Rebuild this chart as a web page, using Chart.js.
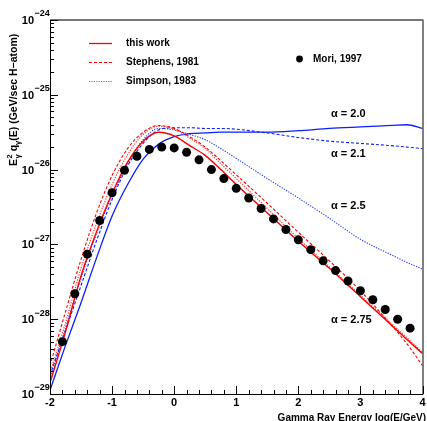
<!DOCTYPE html>
<html>
<head>
<meta charset="utf-8">
<script src="https://cdn.jsdelivr.net/npm/chart.js@4.4.1/dist/chart.umd.min.js"></script>
<style>
body { margin: 0; background: #fff; }
canvas { display: block; }
</style>
</head>
<body>
<canvas id="gamma-spectrum" width="427" height="421"></canvas>
<script>
var curveX = [-2, -1.75, -1.5, -1.25, -1, -0.75, -0.5, -0.25, 0, 0.25, 0.5, 0.75, 1, 1.5, 2, 2.5, 3, 3.5, 3.75, 4];

var thisWork  = [1.41e-29, 6.76e-29, 3.80e-28, 1.48e-27, 4.79e-27, 1.26e-26, 2.40e-26, 3.16e-26, 2.82e-26, 2.09e-26, 1.55e-26, 1.00e-26, 6.31e-27, 2.63e-27, 1.10e-27, 4.79e-28, 2.00e-28, 8.32e-29, 5.37e-29, 3.47e-29];
var stephens  = [2.40e-29, 1.26e-28, 6.31e-28, 2.63e-27, 8.32e-27, 1.91e-26, 3.16e-26, 3.89e-26, 3.55e-26, 2.75e-26, 2.00e-26, 1.32e-26, 8.51e-27, 3.55e-27, 1.45e-27, 6.03e-28, 2.40e-28, 8.32e-29, 4.68e-29, 2.40e-29];
var simpson   = [1.91e-29, 8.91e-29, 4.79e-28, 1.91e-27, 6.31e-27, 1.58e-26, 2.95e-26, 3.80e-26, 3.47e-26, 2.63e-26, 1.91e-26, 1.20e-26, 7.59e-27, 3.02e-27, 1.20e-27, 5.01e-28, 2.09e-28, 8.71e-29, 5.62e-29, 3.63e-29];
var alpha20   = [1.12e-29, 4.47e-29, 1.66e-28, 6.61e-28, 2.40e-27, 6.31e-27, 1.38e-26, 2.19e-26, 2.75e-26, 3.02e-26, 3.09e-26, 3.16e-26, 3.16e-26, 3.16e-26, 3.31e-26, 3.55e-26, 3.72e-26, 3.89e-26, 3.98e-26, 3.55e-26];
var alpha21   = [1.78e-29, 7.08e-29, 2.82e-28, 1.12e-27, 3.98e-27, 1.12e-26, 2.24e-26, 3.39e-26, 3.63e-26, 3.63e-26, 3.55e-26, 3.55e-26, 3.47e-26, 3.09e-26, 2.69e-26, 2.40e-26, 2.24e-26, 2.09e-26, 2.00e-26, 1.91e-26];
var alpha25   = [1.58e-29, 7.59e-29, 3.55e-28, 1.41e-27, 4.47e-27, 1.20e-26, 2.51e-26, 3.55e-26, 3.39e-26, 2.95e-26, 2.51e-26, 1.91e-26, 1.41e-26, 7.59e-27, 4.17e-27, 2.24e-27, 1.17e-27, 7.24e-28, 5.75e-28, 4.68e-28];

var moriX = [-1.8, -1.6, -1.4, -1.2, -1.0, -0.8, -0.6, -0.4, -0.2, 0.0, 0.2, 0.4, 0.6, 0.8, 1.0, 1.2, 1.4, 1.6, 1.8, 2.0, 2.2, 2.4, 2.6, 2.8, 3.0, 3.2, 3.4, 3.6, 3.8];
var moriY = [5.01e-29, 2.19e-28, 7.41e-28, 2.09e-27, 4.90e-27, 9.77e-27, 1.51e-26, 1.86e-26, 2.00e-26, 1.95e-26, 1.70e-26, 1.35e-26, 1.00e-26, 7.59e-27, 5.62e-27, 4.17e-27, 3.02e-27, 2.19e-27, 1.58e-27, 1.15e-27, 8.51e-28, 6.03e-28, 4.47e-28, 3.24e-28, 2.40e-28, 1.82e-28, 1.35e-28, 1.00e-28, 7.59e-29];

var xTickLabels = ['-2', '-1', '0', '1', '2', '3', '4'];
var yExponents = [-29, -28, -27, -26, -25, -24];
var alphaLabels = ['\u03b1 = 2.0', '\u03b1 = 2.1', '\u03b1 = 2.5', '\u03b1 = 2.75'];

var FONT = '"Liberation Sans", Arial, Helvetica, sans-serif';

function toPoints(xs, ys) {
    return xs.map(function(x, i) { return { x: x, y: ys[i] }; });
}

function curve(label, ys, color, width, dash) {
    return {
        label: label,
        data: toPoints(curveX, ys),
        borderColor: color,
        borderWidth: width,
        borderDash: dash,
        pointRadius: 0,
        fill: false,
        cubicInterpolationMode: 'monotone'
    };
}

var pawFrame = {
    id: 'pawFrame',
    afterDraw: function(chart) {
        var ctx = chart.ctx;
        var area = chart.chartArea;
        var xs = chart.scales.x;
        var ys = chart.scales.y;
        ctx.save();

        // frame
        ctx.strokeStyle = '#000';
        ctx.lineWidth = 1;
        ctx.beginPath();
        ctx.moveTo(area.left + 0.5, area.top);
        ctx.lineTo(area.left + 0.5, area.bottom + 0.5);
        ctx.lineTo(area.right + 0.5, area.bottom + 0.5);
        ctx.lineTo(area.right + 0.5, area.top);
        ctx.stroke();
        ctx.strokeStyle = '#777';
        ctx.lineWidth = 2;
        ctx.beginPath();
        ctx.moveTo(area.left, area.top);
        ctx.lineTo(area.right + 1, area.top);
        ctx.stroke();

        // ticks
        ctx.strokeStyle = '#000';
        ctx.lineWidth = 1;
        ctx.beginPath();
        for (var i = 0; i <= 30; i++) {
            var px = Math.round(xs.getPixelForValue(-2 + i * 0.2)) + 0.5;
            var len = (i % 5 === 0) ? 8 : 4;
            ctx.moveTo(px, area.bottom);
            ctx.lineTo(px, area.bottom - len);
        }
        for (var n = -29; n <= -24; n++) {
            for (var k = 1; k <= 9; k++) {
                if (n === -24 && k > 1) break;
                var py = Math.round(ys.getPixelForValue(k * Math.pow(10, n))) + 0.5;
                var l = (k === 1) ? 8 : 4;
                ctx.moveTo(area.left, py);
                ctx.lineTo(area.left + l, py);
            }
        }
        ctx.stroke();

        // tick labels
        ctx.fillStyle = '#000';
        ctx.font = 'bold 11px ' + FONT;
        ctx.textAlign = 'center';
        ctx.textBaseline = 'middle';
        xTickLabels.forEach(function(t) {
            ctx.fillText(t, xs.getPixelForValue(parseFloat(t)), area.bottom + 9);
        });
        yExponents.forEach(function(e) {
            var py = ys.getPixelForValue(Math.pow(10, e));
            ctx.font = 'bold 11px ' + FONT;
            ctx.textAlign = 'right';
            ctx.fillText('10', 34, py + 1);
            ctx.font = 'bold 9px ' + FONT;
            ctx.textAlign = 'left';
            ctx.fillText('\u2212' + Math.abs(e), 34.5, py - 6);
        });

        // x title
        ctx.font = 'bold 10px ' + FONT;
        ctx.textAlign = 'right';
        ctx.textBaseline = 'alphabetic';
        ctx.fillText('Gamma Ray Energy log(E/GeV)', 426, 421);

        // y title
        ctx.save();
        ctx.translate(17, 166);
        ctx.rotate(-Math.PI / 2);
        ctx.textAlign = 'left';
        var cx = 0;
        ctx.font = 'bold 10.5px ' + FONT;
        ctx.fillText('E', cx, 0);
        cx += ctx.measureText('E').width + 0.5;
        ctx.font = 'bold 7.5px ' + FONT;
        ctx.fillText('2', cx, -5);
        ctx.fillText('\u03b3', cx, 3);
        cx += ctx.measureText('\u03b3').width + 3;
        ctx.font = 'bold 10.5px ' + FONT;
        ctx.fillText('q', cx, 0);
        cx += ctx.measureText('q').width;
        ctx.font = 'bold 7.5px ' + FONT;
        ctx.fillText('\u03b3', cx, 3);
        cx += ctx.measureText('\u03b3').width;
        ctx.font = 'bold 10.5px ' + FONT;
        ctx.fillText('(E) (GeV/sec H\u2212atom)', cx, 0);
        ctx.restore();

        // legend
        var entries = [
            { text: 'this work', y: 43.5, color: 'red', dash: [], width: 1.3 },
            { text: 'Stephens, 1981', y: 62.5, color: 'red', dash: [3, 2], width: 1 },
            { text: 'Simpson, 1983', y: 81.5, color: '#ff4040', dash: [1.2, 1.2], width: 1.1 }
        ];
        ctx.font = 'bold 10px ' + FONT;
        ctx.textAlign = 'left';
        ctx.textBaseline = 'middle';
        entries.forEach(function(e) {
            ctx.strokeStyle = e.color;
            ctx.lineWidth = e.width;
            ctx.setLineDash(e.dash);
            ctx.beginPath();
            ctx.moveTo(89, e.y);
            ctx.lineTo(112, e.y);
            ctx.stroke();
            ctx.setLineDash([]);
            ctx.fillStyle = '#000';
            ctx.fillText(e.text, 126, e.y);
        });
        ctx.beginPath();
        ctx.arc(299.5, 59, 3.4, 0, Math.PI * 2);
        ctx.fill();
        ctx.fillText('Mori, 1997', 313, 59);

        // alpha labels
        ctx.font = 'bold 11px ' + FONT;
        var alphaY = [114, 154, 206, 320];
        alphaLabels.forEach(function(t, i) {
            ctx.fillText(t, 331, alphaY[i]);
        });

        ctx.restore();
    }
};

var ctx = document.getElementById('gamma-spectrum').getContext('2d');
var chart = new Chart(ctx, {
    type: 'line',
    data: {
        datasets: [
            {
                label: 'Mori, 1997',
                data: toPoints(moriX, moriY),
                showLine: false,
                pointRadius: 4.5,
                pointBackgroundColor: '#000',
                pointBorderColor: '#000',
                pointBorderWidth: 0
            },
            curve('this work', thisWork, 'red', 1.4, []),
            curve('Stephens, 1981', stephens, 'red', 1.1, [3, 2]),
            curve('Simpson, 1983', simpson, '#ff4040', 1.2, [1.3, 1.3]),
            curve('alpha = 2.0', alpha20, '#0a1eff', 1.3, []),
            curve('alpha = 2.1', alpha21, '#0a1eff', 1.1, [3, 2]),
            curve('alpha = 2.5', alpha25, '#2a3cff', 1.1, [1.3, 1.3])
        ]
    },
    options: {
        responsive: false,
        animation: false,
        layout: { padding: { left: 50, right: 2, top: 20, bottom: 27 } },
        scales: {
            x: { type: 'linear', min: -2, max: 4, display: false },
            y: { type: 'logarithmic', min: 1e-29, max: 1e-24, display: false }
        },
        plugins: {
            legend: { display: false },
            tooltip: { enabled: false }
        }
    },
    plugins: [pawFrame]
});
</script>
</body>
</html>
